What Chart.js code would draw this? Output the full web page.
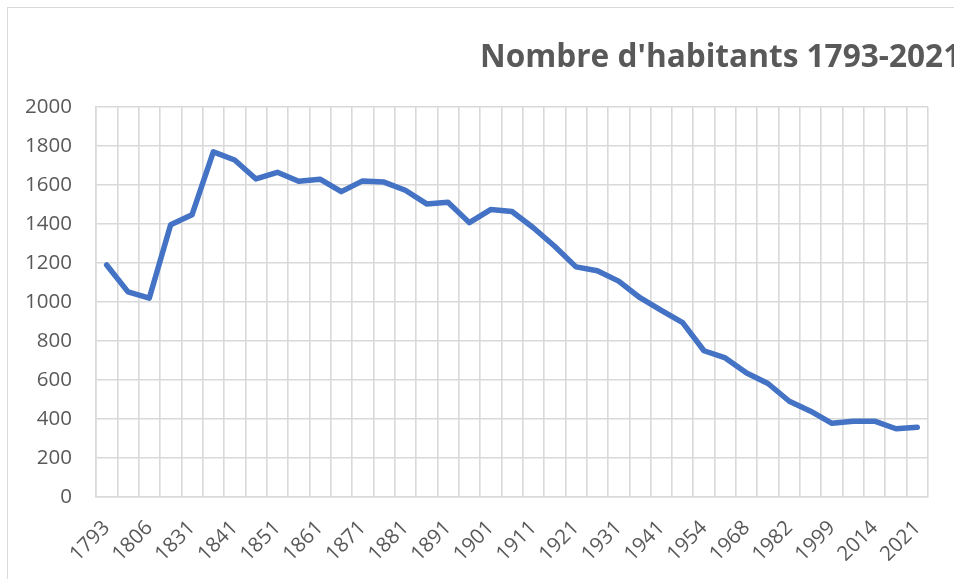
<!DOCTYPE html>
<html lang="fr">
<head>
<meta charset="utf-8">
<title>Nombre d'habitants 1793-2021</title>
<script src="https://cdn.jsdelivr.net/npm/chart.js@4.4.1/dist/chart.umd.min.js"></script>
<style>
    html, body {
        margin: 0;
        padding: 0;
        background: #ffffff;
        overflow: hidden;
    }
    #wrap {
        position: relative;
        width: 954px;
        height: 579px;
        overflow: hidden;
    }
    /* cadre du graphique, coupé à droite et en bas */
    #frame {
        position: absolute;
        left: 7px;
        top: 7px;
        width: 1000px;
        height: 640px;
        border: 1.5px solid #d9d9d9;
        box-sizing: border-box;
    }
    #chart {
        position: absolute;
        left: 0;
        top: 0;
    }
</style>
</head>
<body>
<div id="wrap">
    <div id="frame"></div>
    <canvas id="chart" width="954" height="579"></canvas>
</div>
<script>
// Années des recensements (une étiquette sur deux est affichée)
const years = [
    '1793', '1800', '1806', '1821', '1831', '1836', '1841', '1846', '1851', '1856',
    '1861', '1866', '1871', '1876', '1881', '1886', '1891', '1896', '1901', '1906',
    '1911', '1916', '1921', '1926', '1931', '1936', '1941', '1946', '1954', '1962',
    '1968', '1975', '1982', '1990', '1999', '2006', '2014', '2017', '2021'
];

// Nombre d'habitants
const habitants = [
    1190, 1052, 1020, 1396, 1447, 1770, 1728, 1631, 1665, 1619,
    1630, 1566, 1621, 1615, 1573, 1503, 1512, 1407, 1474, 1464,
    1381, 1286, 1180, 1160, 1107, 1022, 957, 894, 750, 713,
    636, 582, 491, 440, 378, 389, 389, 350, 358
];

const chartTitle = "Nombre d'habitants 1793-2021";

const TEXT_COLOR = '#595959';
const GRID_COLOR = '#d9d9d9';

// Titre dessiné à la main, aligné à gauche à partir d'une position fixe
const titlePlugin = {
    id: 'titreFixe',
    afterDraw(chart) {
        const ctx = chart.ctx;
        ctx.save();
        ctx.font = 'bold 31.6px "Open Sans"';
        ctx.fillStyle = TEXT_COLOR;
        ctx.textAlign = 'left';
        ctx.textBaseline = 'alphabetic';
        ctx.fillText(chartTitle, 480, 67);
        ctx.restore();
    }
};

const ctx = document.getElementById('chart').getContext('2d');

new Chart(ctx, {
    type: 'line',
    data: {
        labels: years,
        datasets: [{
            label: 'Habitants',
            data: habitants,
            borderColor: '#4472c4',
            borderWidth: 5.5,
            borderCapStyle: 'round',
            borderJoinStyle: 'round',
            pointRadius: 0,
            tension: 0,
            fill: false
        }]
    },
    options: {
        responsive: false,
        animation: false,
        layout: {
            padding: { left: 6, right: 25, top: 107, bottom: 0 }
        },
        plugins: {
            legend: { display: false },
            title: { display: false },
            tooltip: { enabled: false }
        },
        scales: {
            x: {
                type: 'category',
                offset: true,
                afterFit: scale => { scale.height = 82; },
                grid: {
                    offset: true,
                    color: GRID_COLOR,
                    lineWidth: 1.6,
                    drawTicks: false
                },
                border: { color: GRID_COLOR, width: 1.6 },
                ticks: {
                    autoSkip: false,
                    minRotation: 45,
                    maxRotation: 45,
                    padding: 19,
                    color: TEXT_COLOR,
                    font: { family: '"Open Sans"', size: 20.5 },
                    // une année sur deux
                    callback: function(value, index) {
                        return index % 2 === 0 ? this.getLabelForValue(value) : '';
                    }
                }
            },
            y: {
                min: 0,
                max: 2000,
                afterFit: scale => { scale.width = 90; },
                grid: {
                    color: GRID_COLOR,
                    lineWidth: 1.6,
                    drawTicks: false
                },
                border: { color: GRID_COLOR, width: 1.6 },
                ticks: {
                    stepSize: 200,
                    padding: 24,
                    color: TEXT_COLOR,
                    font: { family: '"Open Sans"', size: 20.5 },
                    callback: value => String(value)
                }
            }
        }
    },
    plugins: [titlePlugin]
});
</script>
</body>
</html>
